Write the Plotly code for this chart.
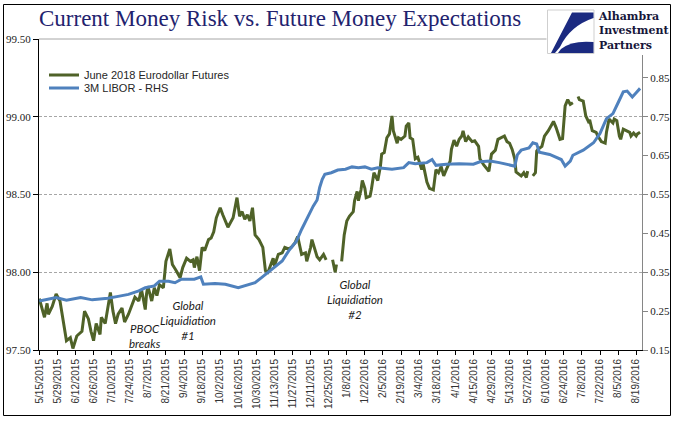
import pandas as pd
import plotly.graph_objects as go

# ---------------- data ----------------
title_text = "Current Money Risk vs. Future Money Expectations"
eurodollar_name = "June 2018 Eurodollar Futures"
libor_name = "3M LIBOR - RHS"

eurodollar = [
    ("2015-05-15", 97.83), ("2015-05-19", 97.71), ("2015-05-21", 97.80), ("2015-05-22", 97.73),
    ("2015-05-25", 97.78), ("2015-05-28", 97.86), ("2015-05-31", 97.815), ("2015-06-03", 97.67),
    ("2015-06-05", 97.56), ("2015-06-08", 97.58), ("2015-06-10", 97.51), ("2015-06-13", 97.59),
    ("2015-06-17", 97.62), ("2015-06-19", 97.75), ("2015-06-22", 97.70), ("2015-06-24", 97.62),
    ("2015-06-26", 97.56), ("2015-06-28", 97.67), ("2015-07-01", 97.60), ("2015-07-02", 97.71),
    ("2015-07-05", 97.67), ("2015-07-09", 97.87), ("2015-07-11", 97.75), ("2015-07-13", 97.67),
    ("2015-07-15", 97.73), ("2015-07-18", 97.77), ("2015-07-20", 97.68), ("2015-07-23", 97.73),
    ("2015-07-25", 97.77), ("2015-07-28", 97.84), ("2015-07-31", 97.815), ("2015-08-02", 97.89),
    ("2015-08-03", 97.85), ("2015-08-05", 97.76), ("2015-08-06", 97.86), ("2015-08-07", 97.91),
    ("2015-08-10", 97.815), ("2015-08-12", 97.90), ("2015-08-14", 97.85), ("2015-08-16", 97.92),
    ("2015-08-19", 97.90), ("2015-08-21", 98.07), ("2015-08-24", 98.15), ("2015-08-26", 98.05),
    ("2015-08-29", 98.01), ("2015-09-01", 97.965), ("2015-09-03", 98.03), ("2015-09-06", 98.09),
    ("2015-09-09", 98.07), ("2015-09-11", 98.08), ("2015-09-12", 98.03), ("2015-09-14", 98.10),
    ("2015-09-16", 98.01), ("2015-09-18", 98.16), ("2015-09-20", 98.14), ("2015-09-23", 98.21),
    ("2015-09-25", 98.22), ("2015-09-27", 98.26), ("2015-09-29", 98.35), ("2015-10-02", 98.415),
    ("2015-10-04", 98.37), ("2015-10-08", 98.29), ("2015-10-12", 98.35), ("2015-10-15", 98.48),
    ("2015-10-17", 98.36), ("2015-10-19", 98.39), ("2015-10-21", 98.34), ("2015-10-23", 98.37),
    ("2015-10-25", 98.33), ("2015-10-27", 98.415), ("2015-10-29", 98.24), ("2015-11-01", 98.21),
    ("2015-11-04", 98.16), ("2015-11-06", 98.01), ("2015-11-08", 98.00), ("2015-11-12", 98.09),
    ("2015-11-13", 98.04), ("2015-11-16", 98.115), ("2015-11-19", 98.125), ("2015-11-21", 98.16),
    ("2015-11-24", 98.15), ("2015-11-26", 98.16), ("2015-11-29", 98.19), ("2015-12-01", 98.23),
    ("2015-12-04", 98.115), ("2015-12-07", 98.125), ("2015-12-08", 98.07), ("2015-12-11", 98.16),
    ("2015-12-12", 98.21), ("2015-12-14", 98.16), ("2015-12-16", 98.10), ("2015-12-18", 98.08),
    ("2015-12-21", 98.115), ("2015-12-23", 98.08), ("2015-12-25", None), ("2015-12-28", 98.08),
    ("2015-12-30", 98.00), ("2015-12-31", 98.05), ("2016-01-01", None), ("2016-01-04", 98.07),
    ("2016-01-06", 98.24), ("2016-01-08", 98.33), ("2016-01-10", 98.36), ("2016-01-13", 98.39),
    ("2016-01-14", 98.46), ("2016-01-16", 98.52), ("2016-01-17", 98.46), ("2016-01-19", 98.53),
    ("2016-01-20", 98.59), ("2016-01-22", 98.54), ("2016-01-23", 98.48), ("2016-01-26", 98.49),
    ("2016-01-27", 98.53), ("2016-01-29", 98.64), ("2016-01-31", 98.61), ("2016-02-01", 98.59),
    ("2016-02-03", 98.68), ("2016-02-04", 98.76), ("2016-02-06", 98.77), ("2016-02-08", 98.865),
    ("2016-02-10", 98.89), ("2016-02-12", 99.005), ("2016-02-13", 98.91), ("2016-02-16", 98.83),
    ("2016-02-17", 98.865), ("2016-02-19", 98.855), ("2016-02-22", 98.876), ("2016-02-23", 98.94),
    ("2016-02-25", 98.96), ("2016-02-26", 98.865), ("2016-02-28", 98.855), ("2016-03-01", 98.73),
    ("2016-03-03", 98.74), ("2016-03-06", 98.66), ("2016-03-07", 98.70), ("2016-03-09", 98.62),
    ("2016-03-10", 98.58), ("2016-03-12", 98.54), ("2016-03-15", 98.53), ("2016-03-17", 98.66),
    ("2016-03-19", 98.64), ("2016-03-21", 98.68), ("2016-03-23", 98.62), ("2016-03-25", 98.66),
    ("2016-03-28", 98.715), ("2016-03-29", 98.79), ("2016-03-31", 98.85), ("2016-04-02", 98.81),
    ("2016-04-04", 98.855), ("2016-04-06", 98.876), ("2016-04-07", 98.91), ("2016-04-09", 98.84),
    ("2016-04-11", 98.87), ("2016-04-14", 98.84), ("2016-04-16", 98.845), ("2016-04-19", 98.81),
    ("2016-04-20", 98.73), ("2016-04-23", 98.69), ("2016-04-25", 98.67), ("2016-04-27", 98.65),
    ("2016-04-29", 98.76), ("2016-05-02", 98.785), ("2016-05-04", 98.855), ("2016-05-07", 98.87),
    ("2016-05-09", 98.876), ("2016-05-11", 98.84), ("2016-05-13", 98.83), ("2016-05-15", 98.79),
    ("2016-05-17", 98.73), ("2016-05-18", 98.645), ("2016-05-20", 98.63), ("2016-05-22", 98.62),
    ("2016-05-24", 98.64), ("2016-05-26", 98.61), ("2016-05-27", 98.65), ("2016-05-30", None),
    ("2016-05-31", 98.62), ("2016-06-02", 98.64), ("2016-06-03", 98.78), ("2016-06-04", 98.79),
    ("2016-06-07", 98.81), ("2016-06-09", 98.876), ("2016-06-12", 98.91), ("2016-06-14", 98.94),
    ("2016-06-16", 98.97), ("2016-06-18", 98.93), ("2016-06-19", 98.90), ("2016-06-21", 98.855),
    ("2016-06-23", 98.86), ("2016-06-24", 99.005), ("2016-06-25", 99.07), ("2016-06-27", 99.11),
    ("2016-06-29", 99.08), ("2016-07-01", 99.09), ("2016-07-04", None), ("2016-07-05", 99.13),
    ("2016-07-06", 99.11), ("2016-07-09", 99.10), ("2016-07-11", 99.005), ("2016-07-13", 98.97),
    ("2016-07-14", 98.98), ("2016-07-16", 98.91), ("2016-07-19", 98.90), ("2016-07-20", 98.88),
    ("2016-07-23", 98.84), ("2016-07-26", 98.83), ("2016-07-27", 98.90), ("2016-07-29", 98.985),
    ("2016-08-01", 98.96), ("2016-08-02", 98.985), ("2016-08-04", 98.975), ("2016-08-06", 98.876),
    ("2016-08-07", 98.855), ("2016-08-09", 98.92), ("2016-08-11", 98.91), ("2016-08-14", 98.90),
    ("2016-08-15", 98.876), ("2016-08-17", 98.895), ("2016-08-19", 98.876), ("2016-08-20", 98.89),
    ("2016-08-22", 98.90),
]

libor = [
    ("2015-05-15", 0.276), ("2015-05-28", 0.285), ("2015-06-05", 0.278), ("2015-06-16", 0.285),
    ("2015-06-25", 0.279), ("2015-07-07", 0.283), ("2015-07-15", 0.288), ("2015-07-23", 0.293),
    ("2015-07-31", 0.302), ("2015-08-05", 0.310), ("2015-08-12", 0.315), ("2015-08-16", 0.327),
    ("2015-08-23", 0.327), ("2015-08-28", 0.323), ("2015-09-02", 0.332), ("2015-09-12", 0.332),
    ("2015-09-17", 0.338), ("2015-09-19", 0.319), ("2015-09-28", 0.321), ("2015-10-06", 0.319),
    ("2015-10-16", 0.310), ("2015-10-24", 0.319), ("2015-10-29", 0.323), ("2015-11-03", 0.336),
    ("2015-11-08", 0.349), ("2015-11-13", 0.362), ("2015-11-19", 0.379), ("2015-11-24", 0.405),
    ("2015-11-30", 0.430), ("2015-12-04", 0.460), ("2015-12-08", 0.487), ("2015-12-13", 0.520),
    ("2015-12-16", 0.536), ("2015-12-18", 0.568), ("2015-12-20", 0.589), ("2015-12-22", 0.602),
    ("2015-12-27", 0.606), ("2016-01-01", 0.613), ("2016-01-07", 0.615), ("2016-01-12", 0.621),
    ("2016-01-17", 0.619), ("2016-01-22", 0.621), ("2016-01-27", 0.615), ("2016-02-01", 0.619),
    ("2016-02-12", 0.615), ("2016-02-21", 0.619), ("2016-02-25", 0.632), ("2016-03-01", 0.629),
    ("2016-03-10", 0.632), ("2016-03-14", 0.640), ("2016-03-17", 0.625), ("2016-03-25", 0.628),
    ("2016-04-04", 0.629), ("2016-04-15", 0.628), ("2016-04-20", 0.634), ("2016-04-28", 0.636),
    ("2016-05-05", 0.632), ("2016-05-13", 0.626), ("2016-05-17", 0.623), ("2016-05-19", 0.652),
    ("2016-05-22", 0.664), ("2016-05-28", 0.670), ("2016-05-31", 0.683), ("2016-06-03", 0.680),
    ("2016-06-05", 0.659), ("2016-06-13", 0.653), ("2016-06-18", 0.646), ("2016-06-22", 0.640),
    ("2016-06-25", 0.623), ("2016-06-29", 0.636), ("2016-07-01", 0.651), ("2016-07-09", 0.664),
    ("2016-07-17", 0.683), ("2016-07-22", 0.707), ("2016-07-27", 0.745), ("2016-08-01", 0.758),
    ("2016-08-05", 0.786), ("2016-08-09", 0.814), ("2016-08-12", 0.816), ("2016-08-16", 0.801),
    ("2016-08-19", 0.812), ("2016-08-22", 0.823),
]

x_tick_labels = [
    "5/15/2015", "5/29/2015", "6/12/2015", "6/26/2015", "7/10/2015", "7/24/2015", "8/7/2015",
    "8/21/2015", "9/4/2015", "9/18/2015", "10/2/2015", "10/16/2015", "10/30/2015", "11/13/2015",
    "11/27/2015", "12/11/2015", "12/25/2015", "1/8/2016", "1/22/2016", "2/5/2016", "2/19/2016",
    "3/4/2016", "3/18/2016", "4/1/2016", "4/15/2016", "4/29/2016", "5/13/2016", "5/27/2016",
    "6/10/2016", "6/24/2016", "7/8/2016", "7/22/2016", "8/5/2016", "8/19/2016",
]
left_ticks = [97.5, 98.0, 98.5, 99.0, 99.5]
right_ticks = [0.15, 0.25, 0.35, 0.45, 0.55, 0.65, 0.75, 0.85]

events = [
    ("2015-08-05", 97.593, "PBOC<br>breaks"),
    ("2015-09-07", 97.687, "Global<br>Liquidiation<br>#1"),
    ("2016-01-14", 97.828, "Global<br>Liquidiation<br>#2"),
]
logo_text = "Alhambra<br>Investment<br>Partners"

# ---------------- geometry helpers (pixel -> paper) ----------------
W, H = 699, 421
ML, MR, MT, MB = 39, 57, 39, 71
PW, PH = W - ML - MR, H - MT - MB


def px(x):
    return (x - ML) / PW


def py(y):
    return (H - MB - y) / PH


def path(cmds):
    out = []
    for c in cmds:
        if isinstance(c, str):
            out.append(c)
        else:
            out.append(f"{px(c[0]):.5f},{py(c[1]):.5f}")
    return " ".join(out)


ed_x = [d for d, _ in eurodollar]
ed_y = [v for _, v in eurodollar]
lb_x = [d for d, _ in libor]
lb_y = [v for _, v in libor]
tick_vals = pd.to_datetime(x_tick_labels, format="%m/%d/%Y")

fig = go.Figure()
fig.add_trace(go.Scatter(
    x=ed_x, y=ed_y, name=eurodollar_name, mode="lines", connectgaps=False,
    line=dict(color="#4F6228", width=3), legend="legend",
))
fig.add_trace(go.Scatter(
    x=lb_x, y=lb_y, name=libor_name, mode="lines", yaxis="y2",
    line=dict(color="#4F81BD", width=3), legend="legend2",
))

legend_font = dict(family="Liberation Sans, Arial, sans-serif", size=11, color="#262626")
fig.update_layout(
    width=W, height=H,
    margin=dict(l=ML, r=MR, t=MT, b=MB, pad=0, autoexpand=False),
    paper_bgcolor="white", plot_bgcolor="white",
    showlegend=True,
    legend=dict(x=px(44), y=py(75), xanchor="left", yanchor="middle",
                bgcolor="rgba(0,0,0,0)", font=legend_font, itemwidth=30),
    legend2=dict(x=px(44), y=py(88), xanchor="left", yanchor="middle",
                 bgcolor="rgba(0,0,0,0)", font=legend_font, itemwidth=30),
    xaxis=dict(
        type="date", range=["2015-05-14 18:00", "2016-08-23 12:00"],
        tickvals=tick_vals, ticktext=x_tick_labels, tickangle=-90,
        tickfont=dict(family="Liberation Sans, Arial, sans-serif", size=10, color="#333333"),
        ticks="outside", ticklen=4, tickcolor="black",
        showline=True, linecolor="black", linewidth=1, showgrid=False, zeroline=False,
    ),
    yaxis=dict(
        range=[97.5, 99.5], tickvals=left_ticks, ticktext=[f"{v:.2f}" for v in left_ticks],
        tickfont=dict(family="Liberation Serif, Times New Roman, serif", size=11, color="#222222"),
        ticks="outside", ticklen=5, tickcolor="black",
        showline=True, linecolor="black", linewidth=1,
        showgrid=True, gridcolor="#A6A6A6", gridwidth=1, griddash="3px,2px", zeroline=False,
    ),
    yaxis2=dict(
        overlaying="y", side="right", range=[0.15, 0.95],
        tickvals=right_ticks, ticktext=[f"{v:.2f}" for v in right_ticks],
        tickfont=dict(family="Liberation Serif, Times New Roman, serif", size=11, color="#222222"),
        ticks="outside", ticklen=5, tickcolor="#868686",
        showline=True, linecolor="#868686", linewidth=1, showgrid=False, zeroline=False,
    ),
)

shapes = [
    # solid top border of plot area
    dict(type="line", xref="paper", yref="paper", x0=0, x1=px(547), y0=1, y1=1,
         line=dict(color="#A6A6A6", width=1), layer="above"),
    # logo background
    dict(type="rect", xref="paper", yref="paper", x0=px(546.5), x1=px(670), y0=py(55), y1=py(8),
         fillcolor="white", line=dict(width=0), layer="above"),
    dict(type="rect", xref="paper", yref="paper", x0=px(547.5), x1=px(594), y0=py(53.5), y1=py(10),
         fillcolor="white", line=dict(color="#CFCFCF", width=1), layer="above"),
    dict(type="path", xref="paper", yref="paper", layer="above",
         path=path(["M", (572, 12.5), "L", (593.5, 12.5), "L", (593.5, 18),
                    "Q", (570, 26), (560, 47), "L", (555, 53), "L", (551, 53), "Z"]),
         fillcolor="#1B2A80", line=dict(width=0)),
    dict(type="path", xref="paper", yref="paper", layer="above",
         path=path(["M", (558, 53), "L", (593.5, 53), "L", (593.5, 42),
                    "Q", (572, 40), (561, 49), "Z"]),
         fillcolor="#1B2A80", line=dict(width=0)),
    # outer frame
    dict(type="rect", xref="paper", yref="paper", x0=px(3.5), x1=px(670.5), y0=py(415.5), y1=py(4.5),
         line=dict(color="black", width=1), fillcolor="rgba(0,0,0,0)", layer="above"),
]

annotations = [
    dict(text=title_text, xref="paper", yref="paper", x=px(37), y=py(19),
         xanchor="left", yanchor="middle", showarrow=False,
         font=dict(family="Liberation Serif, Times New Roman, serif", size=23, color="#22226E")),
    dict(text=logo_text, xref="paper", yref="paper", x=px(596), y=py(31.5),
         xanchor="left", yanchor="middle", align="left", showarrow=False,
         font=dict(family="DejaVu Serif, Liberation Serif, serif", size=11,
                   color="#16163A", weight="bold")),
]
for d, v, txt in events:
    annotations.append(dict(
        text=txt, x=d, y=v, xref="x", yref="y", showarrow=False,
        xanchor="center", yanchor="middle", align="center",
        font=dict(family="Lato, Carlito, sans-serif", size=11.5, color="#1A1A1A", style="italic"),
    ))

fig.update_layout(shapes=shapes, annotations=annotations)
fig.write_html("out.html", config={"displayModeBar": False},
               post_script="document.body.style.margin='0px';")
